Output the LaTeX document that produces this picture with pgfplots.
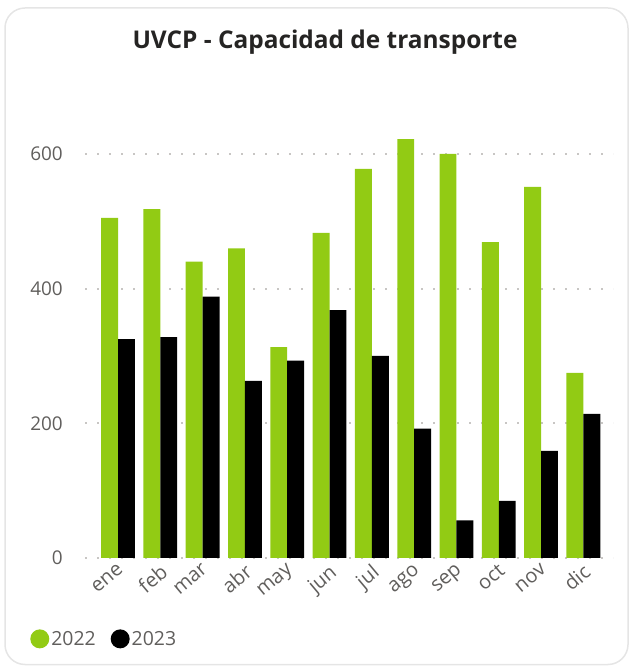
\documentclass[border=0pt]{standalone}
\usepackage{pgfplots}
\pgfplotsset{compat=1.18}
\usepackage{fontspec}
\setmainfont{Open Sans}
\definecolor{grn}{RGB}{146,203,20}
\definecolor{tickc}{RGB}{96,94,92}
\definecolor{ttl}{RGB}{37,36,35}
\definecolor{gridc}{RGB}{200,198,196}
\pgfplotstableread{
x y2022 y2023
0 505 325
1 518 328
2 440 388
3 460 263
4 313 293
5 483 368
6 578 300
7 622 192
8 600 56
9 469 85
10 551 159
11 275 214
}\datatable
\begin{document}
\begin{tikzpicture}
\path[use as bounding box] (0bp,0bp) rectangle (632bp,666bp);
\draw[rounded corners=20bp, draw=gray!20, line width=1.5bp] (5bp,1.5bp) rectangle (628bp,658bp);
\node[font=\fontsize{24.5}{28}\selectfont\bfseries, text=ttl] at (325bp,624bp) {UVCP - Capacidad de transporte};
\begin{axis}[
  at={(85bp,108bp)}, anchor=south west,
  scale only axis, width=528bp, height=444.4bp,
  xmin=-0.78, xmax=11.7, ymin=0, ymax=660,
  ybar=0pt, bar width=16.9bp,
  axis line style={draw=none},
  major tick length=0pt,
  xtick=data,
  xticklabels={ene,feb,mar,abr,may,jun,jul,ago,sep,oct,nov,dic},
  ytick={0,200,400,600},
  ymajorgrids,
  grid style={gridc, line width=2.2bp, dash pattern=on 2.2bp off 9.8bp},
  /pgf/number format/assume math mode=true,
  tick label style={font=\fontsize{19}{22}\selectfont, text=tickc},
  yticklabel style={anchor=east, inner sep=0pt, xshift=-22bp},
  xticklabel style={font=\fontsize{20}{24}\selectfont, rotate=40, anchor=north east, inner sep=0pt, xshift=-4bp, yshift=-3bp},
  legend style={at={(-0.104,-0.182)}, anchor=west, draw=none, fill=none,
    legend columns=2, font=\fontsize{19.5}{22}\selectfont, text=tickc,
    inner sep=0pt, /tikz/every even column/.append style={column sep=13bp}},
  legend cell align=left,
]
\addplot[fill=grn, draw=none, legend image code/.code={\fill[grn] (0bp,0bp) circle (9.5bp);}] table[x=x,y=y2022]{\datatable};
\addplot[fill=black, draw=none, legend image code/.code={\fill[black] (0bp,0bp) circle (9.5bp);}] table[x=x,y=y2023]{\datatable};
\legend{2022,2023}
\end{axis}
\end{tikzpicture}
\end{document}
